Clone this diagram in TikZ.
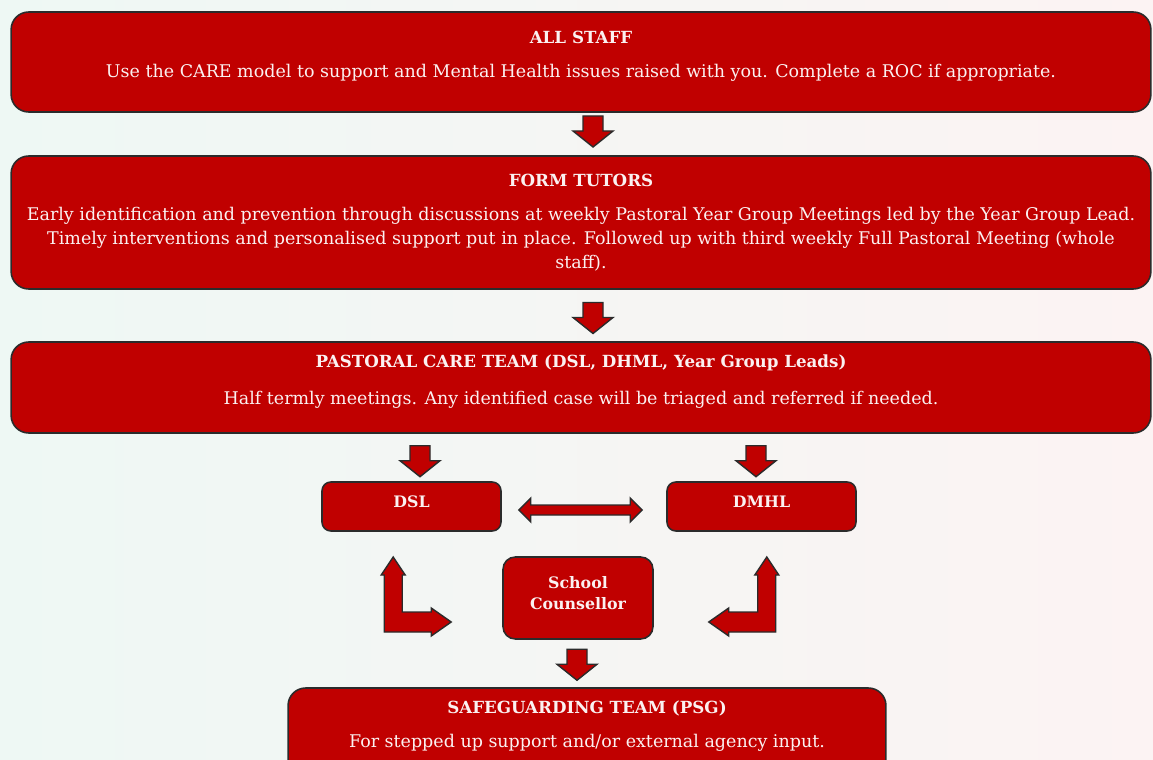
\documentclass[tikz,border=0pt]{standalone}
\usepackage{fontspec}
\setmainfont{DejaVu Serif}
\usepackage{tikz}
\usetikzlibrary{calc,positioning}
\definecolor{boxred}{HTML}{C00000}
\definecolor{rim}{HTML}{2B2B2B}
\definecolor{ink}{HTML}{FBF1F1}
\definecolor{bgl}{HTML}{EEF8F4}
\definecolor{bgr}{HTML}{FCF3F3}
\newcommand{\ttl}[1]{{\fontsize{9.5}{13.6}\selectfont\bfseries #1}}
\tikzset{
  panel/.style={draw=rim, fill=boxred, line width=0.9pt, rounded corners=10pt, text=ink, align=center, inner sep=0pt, font=\fontsize{9.95}{13.6}\selectfont},
  tag/.style={panel, rounded corners=5pt, font=\fontsize{9}{11.9}\selectfont\bfseries},
  blk/.style={draw=rim, fill=boxred, line width=0.8pt, line join=miter},
  downarr/.pic={\draw[blk] (-10,-15.5) -- (10,-15.5) -- (10,-0.5) -- (20,-0.5) -- (0,15.5) -- (-20,-0.5) -- (-10,-0.5) -- cycle;},
  lturn/.pic={\draw[blk] (0,-65) -- (12,-47) -- (9,-47) -- (9,-10) -- (38,-10) -- (38,-14) -- (58,0) -- (38,14) -- (38,10) -- (-9,10) -- (-9,-47) -- (-12,-47) -- cycle;},
}

\begin{document}
\begin{tikzpicture}[x=0.02cm, y=-0.02cm]
  \shade[left color=bgl, right color=bgr] (0,0) rectangle (1153,760);
  \useasboundingbox (0,0) rectangle (1153,760);
  \node[panel, minimum width=22.8cm, minimum height=2cm, text depth=9pt] (allstaff) at (581,62)
    {\ttl{ALL STAFF}\\[5.7pt] Use the CARE model to support and Mental Health issues raised with you. Complete a ROC if appropriate.};
  \node[panel, minimum width=22.8cm, minimum height=2.66cm] (form) at (581,222.5)
    {\ttl{FORM TUTORS}\\[6.2pt] Early identification and prevention through discussions at weekly Pastoral Year Group Meetings led by the Year Group Lead.\\
     Timely interventions and personalised support put in place. Followed up with third weekly Full Pastoral Meeting (whole\\ staff).};
  \node[panel, minimum width=22.8cm, minimum height=1.82cm, text depth=9pt] (pastoral) at (581,387.5)
    {\ttl{PASTORAL CARE TEAM (DSL, DHML, Year Group Leads)}\\[7.4pt] Half termly meetings. Any identified case will be triaged and referred if needed.};
  \node[tag, minimum width=3.58cm, minimum height=0.98cm, text depth=5pt] (dsl) at (411.5,506.5) {DSL};
  \node[tag, minimum width=3.78cm, minimum height=0.98cm, text depth=5pt] (dmhl) at (761.5,506.5) {DMHL};
  \node[tag, rounded corners=7pt, minimum width=3cm, minimum height=1.64cm, text depth=6pt] (counsellor) at (578,598) {School\\Counsellor};
  \node[panel, minimum width=11.96cm, minimum height=1.76cm, text depth=9pt] (psg) at (587,732)
    {\ttl{SAFEGUARDING TEAM (PSG)}\\[5.7pt] For stepped up support and/or external agency input.};

  \pic at ($(allstaff.south)!0.5!(form.north)+(12,-2.5)$) {downarr};
  \pic at ($(form.south)!0.5!(pastoral.north)+(12,2.5)$) {downarr};
  \pic at ($(dsl.north)+(8.5,-20)$) {downarr};
  \pic at ($(dmhl.north)+(-5.5,-20)$) {downarr};
  \pic at ($(counsellor.south)+(-1,25)$) {downarr};

  \coordinate (lend) at ($(dsl.east)+(17,3.5)$);
  \coordinate (rend) at ($(dmhl.west)+(-24,3.5)$);
  \draw[blk] (lend) -- ++(12,-12) -- ++(0,7) -- ($(rend)+(-12,-5)$) -- ++(0,-7) -- (rend)
    -- ++(-12,12) -- ++(0,-7) -- ($(lend)+(12,5)$) -- ++(0,7) -- cycle;

  \pic at ($(counsellor.west)+(-109,24)$) {lturn};
  \pic[xscale=-1] at ($(counsellor.east)+(113,24)$) {lturn};
\end{tikzpicture}
\end{document}
